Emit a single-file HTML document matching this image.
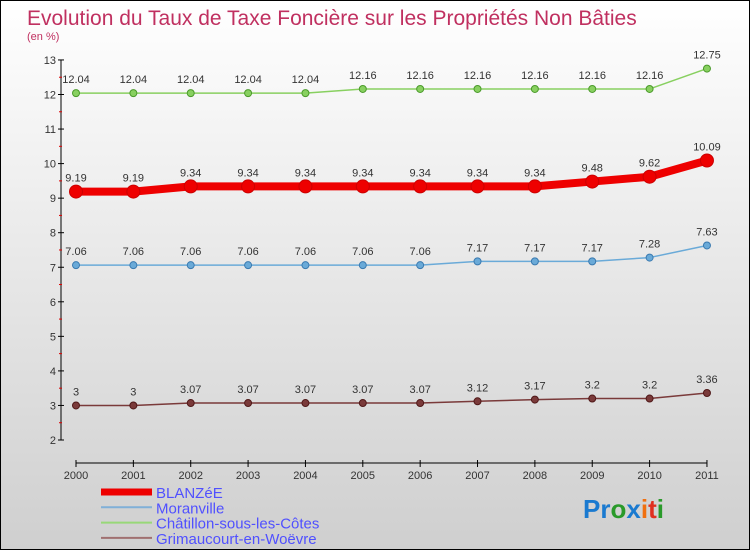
<!DOCTYPE html>
<html><head><meta charset="utf-8"><style>
html,body{margin:0;padding:0}
body{width:750px;height:550px;overflow:hidden;font-family:"Liberation Sans",sans-serif}
#wrap{position:relative;width:748px;height:548px;border:1px solid #000;background:linear-gradient(#ffffff,#cfcfcf)}
</style></head><body>
<div id="wrap">
<svg id="chart" width="748" height="548" xmlns="http://www.w3.org/2000/svg">
<text x="26" y="24" font-size="21" fill="#c03060">Evolution du Taux de Taxe Foncière sur les Propriétés Non Bâties</text>
<text x="26" y="39" font-size="11" fill="#c03060">(en %)</text>
<g id="axes"></g><g id="series"></g>
<g id="legend"></g>
<text x="582" y="517" font-size="26" font-weight="bold"><tspan fill="#1a7ad0">Pr</tspan><tspan fill="#2a9a2a">o</tspan><tspan fill="#1a7ad0">x</tspan><tspan fill="#f07010">i</tspan><tspan fill="#e03020">t</tspan><tspan fill="#2a9a2a">i</tspan></text>
</svg>
</div>
<script>
const years=["2000","2001","2002","2003","2004","2005","2006","2007","2008","2009","2010","2011"];
const blanzee=[9.19,9.19,9.34,9.34,9.34,9.34,9.34,9.34,9.34,9.48,9.62,10.09];
const moranville=[7.06,7.06,7.06,7.06,7.06,7.06,7.06,7.17,7.17,7.17,7.28,7.63];
const chatillon=[12.04,12.04,12.04,12.04,12.04,12.16,12.16,12.16,12.16,12.16,12.16,12.75];
const grimaucourt=[3,3,3.07,3.07,3.07,3.07,3.07,3.12,3.17,3.2,3.2,3.36];
const yTicks=[2,3,4,5,6,7,8,9,10,11,12,13];
const NS="http://www.w3.org/2000/svg";
const x=i=>75+i*57.36;
const y=v=>439-(v-2)*34.55;
function mk(t,a,p){const e=document.createElementNS(NS,t);for(const k in a)e.setAttribute(k,a[k]);p.appendChild(e);return e;}
const axes=document.getElementById('axes');
const ya=mk('line',{x1:60,y1:y(13),x2:60,y2:y(2),stroke:'#000'},axes);


yTicks.forEach(v=>{
 const t=mk('line',{x1:57,x2:63,y1:y(v),y2:y(v),stroke:'#000'},axes);
 
 
 if(v<13){const m=mk('line',{x1:58,x2:61,y1:y(v+0.5),y2:y(v+0.5),stroke:'#d00'},axes);
 
 }
 const l=mk('text',{x:55,y:y(v)+4,'font-size':11,fill:'#333','text-anchor':'end'},axes);l.textContent=v;
 
 
});
const xa=mk('line',{x1:x(0),x2:x(11),y1:462,y2:462,stroke:'#000'},axes);


years.forEach((yr,i)=>{
 const t=mk('line',{x1:x(i),x2:x(i),y1:459,y2:466,stroke:'#000'},axes);
 
 
 const l=mk('text',{x:x(i),y:478,'font-size':11,fill:'#333','text-anchor':'middle'},axes);l.textContent=yr;
 
 
});
const ser=document.getElementById('series');
function draw(name,vals,color,dark,w,r){
 const g=mk('g',{},ser);
 
 
 const pl=mk('polyline',{points:vals.map((v,i)=>x(i)+','+y(v)).join(' '),fill:'none',stroke:color,'stroke-width':w,'stroke-linejoin':'round'},g);
 
 
 vals.forEach((v,i)=>{
  const c=mk('circle',{cx:x(i),cy:y(v),r:r,fill:color,stroke:dark,'stroke-width':1},g);
  
  
  const l=mk('text',{x:x(i),y:y(v)-10,'font-size':11,fill:'#333','text-anchor':'middle'},g);
  l.textContent=v;
  
  
 });
}
draw('chatillon',chatillon,'#88d060','#4a9a2a',1.5,3.5);
draw('blanzee',blanzee,'#ee0000','#cc0000',8,6.5);
draw('moranville',moranville,'#6aaad8','#3a7ab0',1.5,3.5);
draw('grimaucourt',grimaucourt,'#7a3a3a','#501818',1.5,3.5);
const leg=document.getElementById('legend');
[['BLANZéE','#ee0000',7],['Moranville','#80b0d8',2],['Châtillon-sous-les-Côtes','#98d878',2],['Grimaucourt-en-Woëvre','#a07070',2]].forEach((e,i)=>{
 const yy=491+i*15.3;
 const ln=mk('line',{x1:100,x2:151,y1:yy,y2:yy,stroke:e[1],'stroke-width':e[2]},leg);
 
 
 const t=mk('text',{x:155,y:yy+6,'font-size':15,fill:'#5050ff'},leg);t.textContent=e[0];
 
 
});
</script>
</body></html>
